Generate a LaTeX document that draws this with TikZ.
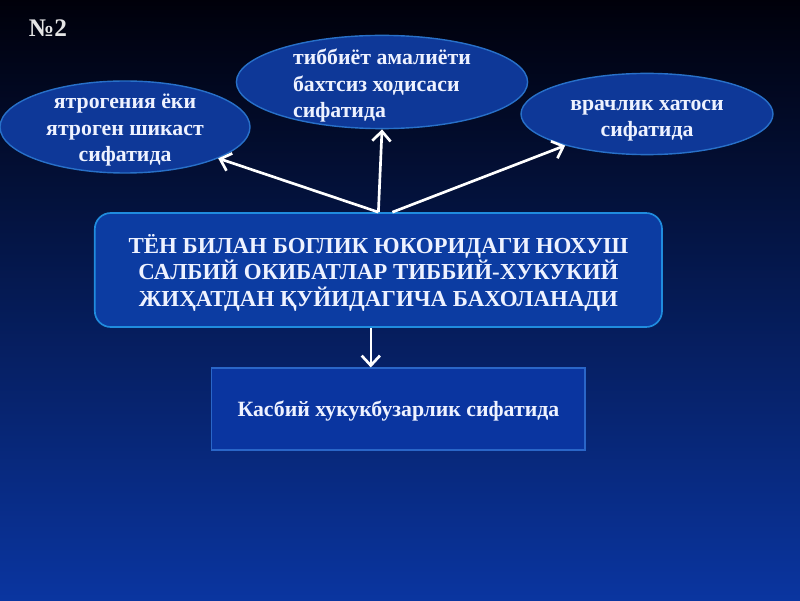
\documentclass[tikz,border=0pt]{standalone}
\usepackage{fontspec}
\setmainfont{Liberation Serif}
\usetikzlibrary{shapes.geometric,arrows.meta}
\definecolor{bgtop}{RGB}{0,0,10}
\definecolor{bgmid}{RGB}{10,42,140}
\definecolor{bgbot}{RGB}{10,53,160}
\definecolor{ovalfill}{RGB}{14,56,152}
\definecolor{ovalline}{RGB}{40,112,200}
\definecolor{boxfill}{RGB}{12,60,162}
\definecolor{boxline}{RGB}{32,140,222}
\definecolor{lowline}{RGB}{42,102,200}
\definecolor{txt}{RGB}{238,242,255}
\begin{document}
\begin{tikzpicture}[
    oval/.style={ellipse, draw=ovalline, line width=1pt, fill=ovalfill, inner sep=0pt},
    label text/.style={text=txt, font=\bfseries\fontsize{15.5}{19}\selectfont, align=center, inner sep=0pt},
    mainbox/.style={rectangle, rounded corners=0.4cm, draw=boxline, line width=1.2pt,
      fill=boxfill, minimum width=14.18cm, minimum height=2.85cm},
    lowbox/.style={rectangle, draw=lowline, line width=0.8pt, fill=bgbot,
      minimum width=9.33cm, minimum height=2.05cm},
    link/.style={draw=white, line width=1.9pt, -{Straight Barb[length=7pt,width=13pt,line width=1.9pt]}}
  ]
  \useasboundingbox (0,0) rectangle (20,15);
  \shade[top color=bgtop, middle color=bgmid, bottom color=bgbot] (0,0) rectangle (20,15);

  \node[text=white!80!gray, font=\bfseries\fontsize{18}{20}\selectfont] (num) at (1.2,14.3) {№2};

  \node[oval, minimum width=6.25cm, minimum height=2.3cm] (iatro) at (3.125,11.825) {};
  \node[oval, minimum width=7.28cm, minimum height=2.33cm] (accident) at (9.55,12.95) {};
  \node[oval, minimum width=6.3cm, minimum height=2.03cm] (error) at (16.175,12.15) {};
  \node[label text] (iatro text) at ([yshift=-0.08cm]iatro.center)
    {ятрогения ёки\\ятроген шикаст\\сифатида};
  \node[label text, align=left] (accident text) at ([yshift=-0.09cm]accident.center)
    {тиббиёт амалиёти\\бахтсиз ходисаси\\сифатида};
  \node[label text] (error text) at ([yshift=-0.17cm]error.center)
    {врачлик хатоси\\сифатида};

  \node[mainbox] (main) at (9.46,8.25) {};
  \node[label text, font=\bfseries\fontsize{16.3}{18.8}\selectfont] (main text) at ([yshift=-0.07cm]main.center)
    {ТЁН БИЛАН БОГЛИК ЮКОРИДАГИ НОХУШ\\САЛБИЙ ОКИБАТЛАР ТИББИЙ-ХУКУКИЙ\\ЖИҲАТДАН ҚУЙИДАГИЧА БАХОЛАНАДИ};
  \node[lowbox] (crime) at (9.96,4.775) {};
  \node[label text] (crime text) at ([yshift=-0.05cm]crime.center) {Касбий хукукбузарлик сифатида};

  \coordinate (right) at ([xshift=0.35cm]main.north);
  \coordinate (down) at ([xshift=-0.19cm]main.south);

  \draw[link] (main.north) -- (iatro);
  \draw[link] (main.north) -- (accident.south);
  \draw[link] (right) -- (error);
  \draw[link, line width=1.4pt] (down) -- (down |- crime.north);
\end{tikzpicture}
\end{document}
